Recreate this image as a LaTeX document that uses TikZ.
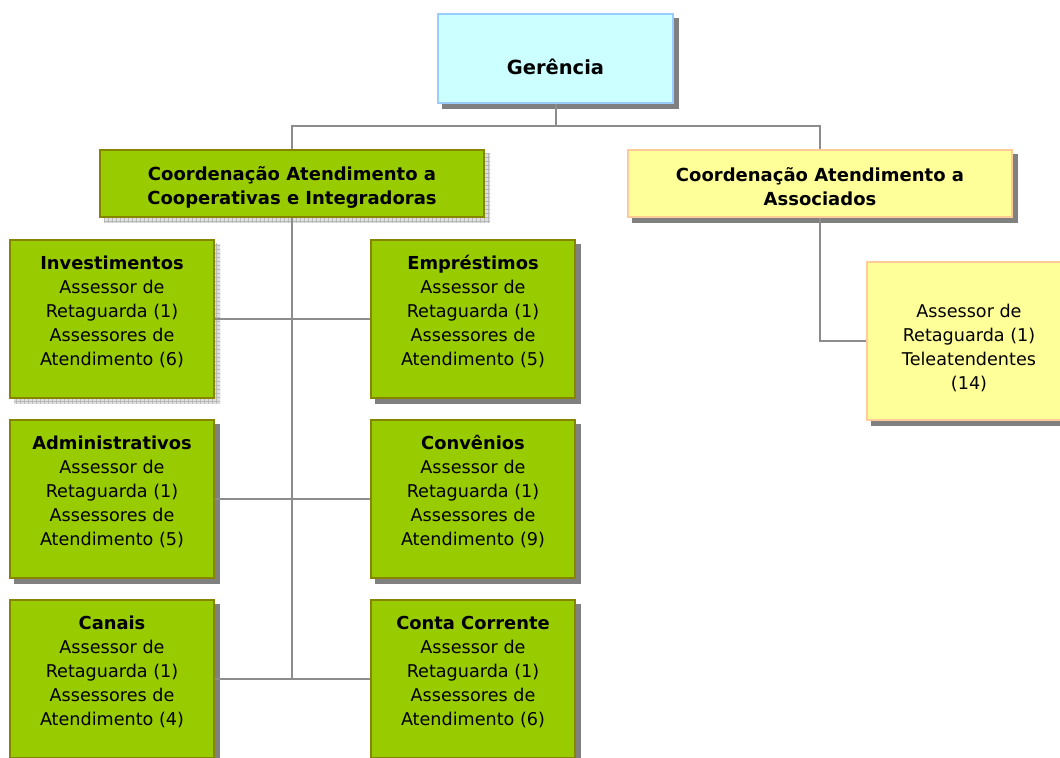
\documentclass[tikz,border=0pt]{standalone}
\usepackage{fontspec}
\setmainfont{DejaVu Sans}
\usetikzlibrary{backgrounds,patterns}
\definecolor{limefill}{HTML}{99CC00}
\definecolor{oliveline}{HTML}{858500}
\definecolor{yelfill}{HTML}{FFFF99}
\definecolor{yelline}{HTML}{FFCC99}
\definecolor{cyanfill}{HTML}{CCFFFF}
\definecolor{cyanline}{HTML}{99CCFF}
\definecolor{connline}{HTML}{8C8C8C}
\definecolor{shadowgray}{HTML}{808080}
\newcommand{\bt}[1]{{\fontsize{13.4pt}{18pt}\selectfont\bfseries #1}}
\tikzset{
  box/.style={rectangle, line width=1.5pt, inner sep=0pt},
  gbox/.style={box, draw=oliveline, fill=limefill},
  ybox/.style={box, draw=yelline, fill=yelfill},
  cbox/.style={box, draw=cyanline, fill=cyanfill},
  small/.style={minimum width=153pt, minimum height=118.5pt},
  coord/.style={minimum width=288pt, minimum height=50.25pt},
  txt/.style={align=center, inner sep=0pt, font=\fontsize{13.2pt}{18pt}\selectfont},
  conn/.style={draw=connline, line width=1.5pt},
  shad/.style={fill=shadowgray},
  hshad/.style={fill=gray!25, postaction={pattern=grid, pattern color=gray!55}}
}
\begin{document}
\begin{tikzpicture}[x=0.75pt, y=0.75pt]
\useasboundingbox (0,0) rectangle (1060,757);
\clip (0,0) rectangle (1060,757);

% boxes
\node[cbox, minimum width=176.25pt, minimum height=66.75pt] (ger) at (555.5,698.5) {};
\node[gbox, coord] (cg) at (292,573.5) {};
\node[ybox, coord] (cy) at (820,573.5) {};
\node[gbox, small] (inv) at (112,438) {};
\node[gbox, small] (emp) at (473,438) {};
\node[gbox, small] (adm) at (112,258) {};
\node[gbox, small] (conv) at (473,258) {};
\node[gbox, small] (can) at (112,78) {};
\node[gbox, small] (cc) at (473,78) {};
\node[ybox, small] (tele) at (969,416) {};

% texts
\node[txt, font=\fontsize{14.6pt}{18pt}\selectfont\bfseries] (ger-t) at (555.5,690) {Gerência};
\node[txt, font=\fontsize{13.5pt}{18pt}\selectfont\bfseries] (cg-t) at (292,570) {Coordenação Atendimento a\\Cooperativas e Integradoras};
\node[txt, font=\fontsize{13.5pt}{18pt}\selectfont\bfseries] (cy-t) at (820,570) {Coordenação Atendimento a\\Associados};
\node[txt] (inv-t) at (112,445) {\bt{Investimentos}\\Assessor de\\Retaguarda (1)\\Assessores de\\Atendimento (6)};
\node[txt] (emp-t) at (473,445) {\bt{Empréstimos}\\Assessor de\\Retaguarda (1)\\Assessores de\\Atendimento (5)};
\node[txt] (adm-t) at (112,265) {\bt{Administrativos}\\Assessor de\\Retaguarda (1)\\Assessores de\\Atendimento (5)};
\node[txt] (conv-t) at (473,265) {\bt{Convênios}\\Assessor de\\Retaguarda (1)\\Assessores de\\Atendimento (9)};
\node[txt] (can-t) at (112,85) {\bt{Canais}\\Assessor de\\Retaguarda (1)\\Assessores de\\Atendimento (4)};
\node[txt] (cc-t) at (473,85) {\bt{Conta Corrente}\\Assessor de\\Retaguarda (1)\\Assessores de\\Atendimento (6)};
\node[txt] (tele-t) at (969,409.5) {Assessor de\\Retaguarda (1)\\Teleatendentes\\(14)};

\coordinate (bus) at (ger.south |- 0,631);
\coordinate (tend) at (cg.south |- can.east);

\begin{scope}[on background layer]
  \foreach \n in {ger,cy,emp,adm,conv,can,cc,tele}
    \fill[shad] ([shift={(5,-5)}]\n.south west) rectangle ([shift={(5,-5)}]\n.north east);
  \foreach \n in {cg,inv}
    \fill[hshad] ([shift={(5,-5)}]\n.south west) rectangle ([shift={(5,-5)}]\n.north east);
  % connectors
  \draw[conn] (ger.south) -- (bus);
  \draw[conn] (cg.north) |- (bus) -| (cy.north);
  \draw[conn] (cg.south) -- (tend);
  \draw[conn] (inv.east) -- (emp.west);
  \draw[conn] (adm.east) -- (conv.west);
  \draw[conn] (can.east) -- (cc.west);
  \draw[conn] (cy.south) |- (tele.west);
\end{scope}
\end{tikzpicture}
\end{document}
